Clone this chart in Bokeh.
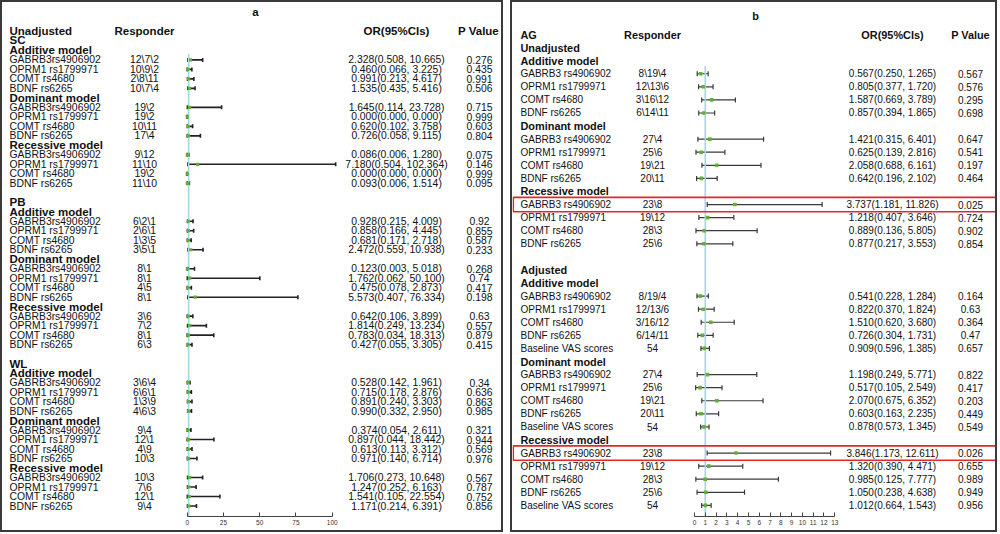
from bokeh.plotting import figure
from bokeh.models import Range1d, FixedTicker, ColumnDataSource, Whisker, TeeHead
from bokeh.layouts import row
from bokeh.embed import file_html
from bokeh.resources import INLINE
from bokeh.core.properties import value

FONT = "Liberation Sans"

# ---------------- Panel a data ----------------
sections_a = ["SC", "PB", "WL"]
models = ["Additive model", "Dominant model", "Recessive model"]
genes_a = ["GABRB3rs4906902", "OPRM1 rs1799971", "COMT rs4680", "BDNF rs6265"]
resp_a = ["12\\7\\2", "10\\9\\2", "2\\8\\11", "10\\7\\4",
          "19\\2", "19\\2", "10\\11", "17\\4",
          "9\\12", "11\\10", "19\\2", "11\\10",
          "6\\2\\1", "2\\6\\1", "1\\3\\5", "3\\5\\1",
          "8\\1", "8\\1", "4\\5", "8\\1",
          "3\\6", "7\\2", "8\\1", "6\\3",
          "3\\6\\4", "6\\6\\1", "1\\3\\9", "4\\6\\3",
          "9\\4", "12\\1", "4\\9", "10\\3",
          "10\\3", "7\\6", "12\\1", "9\\4"]
or_a = [2.328, 0.460, 0.991, 1.535, 1.645, 0.000, 0.620, 0.726, 0.086, 7.180, 0.000, 0.093,
        0.928, 0.858, 0.681, 2.472, 0.123, 1.762, 0.475, 5.573, 0.642, 1.814, 0.783, 0.427,
        0.528, 0.715, 0.891, 0.990, 0.374, 0.897, 0.613, 0.971, 1.706, 1.247, 1.541, 1.171]
lo_a = [0.508, 0.066, 0.213, 0.435, 0.114, 0.000, 0.102, 0.058, 0.006, 0.504, 0.000, 0.006,
        0.215, 0.166, 0.171, 0.559, 0.003, 0.062, 0.078, 0.407, 0.106, 0.249, 0.034, 0.055,
        0.142, 0.178, 0.240, 0.332, 0.054, 0.044, 0.113, 0.140, 0.273, 0.252, 0.105, 0.214]
hi_a = [10.665, 3.225, 4.617, 5.416, 23.728, 0.000, 3.758, 9.115, 1.280, 102.364, 0.000, 1.514,
        4.009, 4.445, 2.718, 10.938, 5.018, 50.100, 2.873, 76.334, 3.899, 13.234, 18.313, 3.305,
        1.961, 2.876, 3.303, 2.950, 2.611, 18.442, 3.312, 6.714, 10.648, 6.163, 22.554, 6.391]
p_a = ["0.276", "0.435", "0.991", "0.506", "0.715", "0.999", "0.603", "0.804", "0.075", "0.146", "0.999", "0.095",
       "0.92", "0.855", "0.587", "0.233", "0.268", "0.74", "0.417", "0.198", "0.63", "0.557", "0.879", "0.415",
       "0.34", "0.636", "0.863", "0.985", "0.321", "0.944", "0.569", "0.976", "0.567", "0.787", "0.752", "0.856"]
ticks_a = [0, 25, 50, 75, 100]

# ---------------- Panel b data ----------------
genes_b = ["GABRB3 rs4906902", "OPRM1 rs1799971", "COMT rs4680", "BDNF rs6265"]
covariate_b = "Baseline VAS scores"
resp_b_unadj = ["8\\19\\4", "12\\13\\6", "3\\16\\12", "6\\14\\11",
                "27\\4", "25\\6", "19\\21", "20\\11",
                "23\\8", "19\\12", "28\\3", "25\\6"]
or_b_unadj = [0.567, 0.805, 1.587, 0.857, 1.421, 0.625, 2.058, 0.642, 3.737, 1.218, 0.889, 0.877]
lo_b_unadj = [0.250, 0.377, 0.669, 0.394, 0.315, 0.139, 0.688, 0.196, 1.181, 0.407, 0.136, 0.217]
hi_b_unadj = [1.265, 1.720, 3.789, 1.865, 6.401, 2.816, 6.161, 2.102, 11.826, 3.646, 5.805, 3.553]
p_b_unadj = ["0.567", "0.576", "0.295", "0.698", "0.647", "0.541", "0.197", "0.464", "0.025", "0.724", "0.902", "0.854"]
resp_b_adj = ["8/19/4", "12/13/6", "3/16/12", "6/14/11", "54",
              "27\\4", "25\\6", "19\\21", "20\\11", "54",
              "23\\8", "19\\12", "28\\3", "25\\6", "54"]
or_b_adj = [0.541, 0.822, 1.510, 0.726, 0.909, 1.198, 0.517, 2.070, 0.603, 0.878, 3.846, 1.320, 0.985, 1.050, 1.012]
lo_b_adj = [0.228, 0.370, 0.620, 0.304, 0.596, 0.249, 0.105, 0.675, 0.163, 0.573, 1.173, 0.390, 0.125, 0.238, 0.664]
hi_b_adj = [1.284, 1.824, 3.680, 1.731, 1.385, 5.771, 2.549, 6.352, 2.235, 1.345, 12.611, 4.471, 7.777, 4.638, 1.543]
p_b_adj = ["0.164", "0.63", "0.364", "0.47", "0.657", "0.822", "0.417", "0.203", "0.449", "0.549",
           "0.026", "0.655", "0.989", "0.949", "0.956"]
ticks_b = list(range(0, 14))

H = 532
BORDER = {"border": "2px solid #3a3a3a"}
BAR_GREEN = "#5db233"
REF_BLUE = "#a3d6e2"


def fmt_ci(o, l, h):
    return "%.3f(%.3f, %.3f)" % (o, l, h)


def base_fig(W, frame_h, xr, yr, ticks):
    p = figure(width=W, height=H, x_range=xr, y_range=yr, output_backend="svg",
               toolbar_location=None, y_axis_location=None,
               min_border_left=0, min_border_right=0, min_border_top=0, min_border_bottom=H - frame_h)
    p.extra_x_ranges = {"px": Range1d(0, W)}
    p.grid.visible = False
    p.outline_line_color = None
    ax = p.xaxis[0]
    ax.ticker = FixedTicker(ticks=ticks)
    ax.bounds = (ticks[0], ticks[-1])
    ax.major_tick_in = 4
    ax.major_tick_out = 0
    ax.minor_tick_line_color = None
    ax.axis_line_color = "#444444"
    ax.major_tick_line_color = "#444444"
    ax.major_label_text_font = FONT
    ax.major_label_text_font_size = "6.5px"
    ax.major_label_text_color = "#333333"
    ax.major_label_standoff = 3
    p.styles = BORDER
    return p


def add_texts(p, items, size, bold):
    src = ColumnDataSource(dict(x=[i[0] for i in items], y=[i[1] for i in items],
                                t=[i[2] for i in items], a=[i[3] for i in items]))
    p.text(x="x", y="y", text="t", text_align="a", source=src, x_range_name="px",
           text_baseline="middle", text_font=value(FONT), text_font_size=size,
           text_font_style="bold" if bold else "normal", text_color="#111111")


def add_bars(p, rows, ors, los, his, lw, cap, msize, color):
    src = ColumnDataSource(dict(y=rows, o=ors, lo=los, hi=his))
    w = Whisker(base="y", lower="lo", upper="hi", dimension="width", source=src,
                line_color=color, line_width=lw,
                lower_head=TeeHead(size=cap, line_color=color, line_width=lw),
                upper_head=TeeHead(size=cap, line_color=color, line_width=lw))
    p.add_layout(w)
    p.scatter(x="o", y="y", source=src, marker="square", size=msize,
              color=BAR_GREEN, line_color=None)


# ================= Panel a =================
WA = 503
FRAME_A = 515
px0_a, ppu_a = 184.7, 1.45
row0_a, rowh_a = 48.0, 9.51
xr_a = Range1d(-px0_a / ppu_a, (WA - px0_a) / ppu_a)
yr_a = Range1d((FRAME_A - row0_a) / rowh_a, -row0_a / rowh_a)
pa = base_fig(WA, FRAME_A, xr_a, yr_a, ticks_a)

X_LAB_A, X_RESP_A, X_OR_A, X_P_A = 7, 142, 394, 477
norm_a, bold_a = [], []
bold_a += [(253, -4.0, "a", "center"),
           (X_LAB_A, -2.0, "Unadjusted", "left"), (X_RESP_A, -2.0, "Responder", "center"),
           (X_OR_A, -2.0, "OR(95%CIs)", "center"), (X_P_A - 1, -2.0, "P Value", "center")]
rows_a = []
k = 0
for s, sec in enumerate(sections_a):
    base = s * 17
    bold_a.append((X_LAB_A, base - 1.1 if s == 0 else base - 1, sec, "left"))
    for m, mod in enumerate(models):
        r0 = base + m * 5
        bold_a.append((X_LAB_A, r0, mod, "left"))
        for g, gene in enumerate(genes_a):
            r = r0 + 1 + g
            rows_a.append(r)
            norm_a += [(X_LAB_A, r, gene, "left"), (X_RESP_A, r, resp_a[k], "center"),
                       (X_OR_A, r, fmt_ci(or_a[k], lo_a[k], hi_a[k]), "center"),
                       (X_P_A, r, p_a[k], "center")]
            k += 1

pa.segment(x0=[1], x1=[1], y0=[0.35], y1=[yr_a.start], line_color=REF_BLUE, line_width=1.6)
add_bars(pa, rows_a, or_a, lo_a, hi_a, 1.6, 4, 3.2, "#222222")
add_texts(pa, norm_a, "10.4px", False)
add_texts(pa, bold_a, "11.5px", True)

# ================= Panel b =================
WB = 487
FRAME_B = 514
px0_b, ppu_b = 182.0, 10.79
row0_b, rowh_b = 32.0, 13.08
xr_b = Range1d(-px0_b / ppu_b, (WB - px0_b) / ppu_b)
yr_b = Range1d((FRAME_B - row0_b) / rowh_b, -row0_b / rowh_b)
pb = base_fig(WB, FRAME_B, xr_b, yr_b, ticks_b)

X_LAB_B, X_RESP_B, X_OR_B, X_P_B = 8, 140, 380, 458
norm_b, bold_b = [], []
bold_b += [(243, -1.45, "b", "center"),
           (X_LAB_B, 0, "AG", "left"), (X_RESP_B, 0, "Responder", "center"),
           (X_OR_B, 0, "OR(95%CIs)", "center"), (X_P_B, 0, "P Value", "center"),
           (X_LAB_B, 1, "Unadjusted", "left"), (X_LAB_B, 18, "Adjusted", "left")]

rows_b, ors_b, los_b, his_b, sig_rows = [], [], [], [], []


def add_block(start, labels, resp, ors, los, his, ps):
    n = len(labels)
    k = 0
    for m, mod in enumerate(models):
        r0 = start + m * (n + 1)
        bold_b.append((X_LAB_B, r0, mod, "left"))
        for g, lab in enumerate(labels):
            r = r0 + 1 + g
            rows_b.append(r); ors_b.append(ors[k]); los_b.append(los[k]); his_b.append(his[k])
            if float(ps[k]) < 0.05:
                sig_rows.append(r)
            norm_b.extend([(X_LAB_B, r, lab, "left"), (X_RESP_B, r, resp[k], "center"),
                           (X_OR_B, r, fmt_ci(ors[k], los[k], his[k]), "center"),
                           (X_P_B, r, ps[k], "center")])
            k += 1


add_block(2, genes_b, resp_b_unadj, or_b_unadj, lo_b_unadj, hi_b_unadj, p_b_unadj)
add_block(19, genes_b + [covariate_b], resp_b_adj, or_b_adj, lo_b_adj, hi_b_adj, p_b_adj)

pb.segment(x0=[1], x1=[1], y0=[2.4], y1=[yr_b.start], line_color=REF_BLUE, line_width=1.6)
add_bars(pb, rows_b, ors_b, los_b, his_b, 1.2, 5, 3.6, "#3a3a3a")
pb.quad(left=[0.8] * len(sig_rows), right=[WB] * len(sig_rows),
        top=[r - 0.55 for r in sig_rows], bottom=[r + 0.55 for r in sig_rows],
        x_range_name="px", fill_color=None, line_color="#e5262b", line_width=1.6)
add_texts(pb, norm_b, "10px", False)
add_texts(pb, bold_b, "10.9px", True)

layout = row(pa, pb, spacing=7)
open("out.html", "w").write(file_html(layout, INLINE))
